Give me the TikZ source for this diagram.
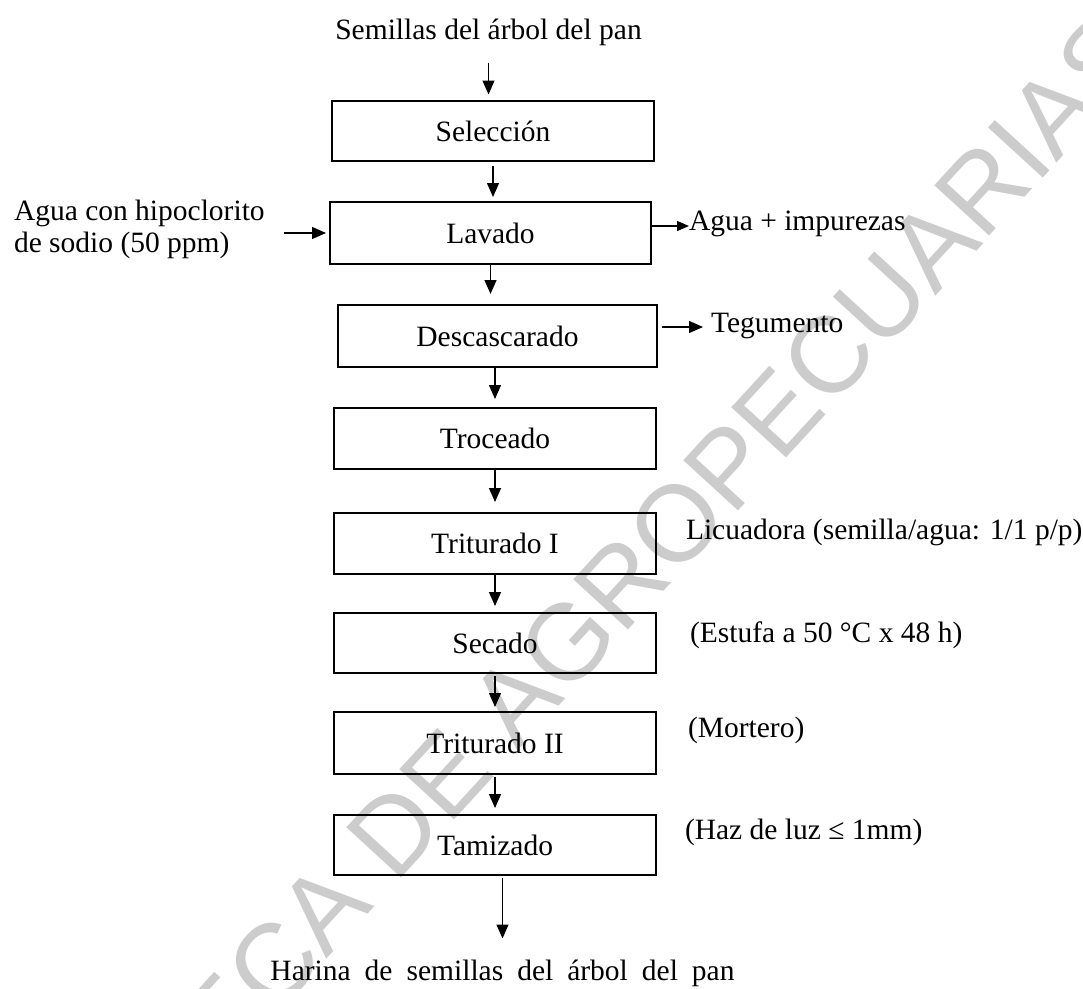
\documentclass[tikz,border=0pt]{standalone}
\usepackage{fontspec}
\setmainfont{Liberation Serif}
\newfontfamily\wmfont{Liberation Sans}
\usetikzlibrary{arrows.meta}
\begin{document}
\begin{tikzpicture}[x=1pt,y=-1pt,
  every node/.style={inner sep=0pt, outer sep=0pt, font=\fontsize{29.5}{32}\selectfont},
  procbox/.style={draw, line width=1.5pt, minimum width=322pt, minimum height=61pt},
  arr/.style={line width=1.3pt, -{Triangle[length=14pt,width=12pt]}},
  arrs/.style={line width=1.3pt, -{Triangle[length=12pt,width=10pt]}},
  note/.style={anchor=base west},
  wm/.style={anchor=base east, rotate=47.5, text=gray!40, font=\wmfont\fontsize{108}{108}\selectfont}]
\useasboundingbox (0,0) rectangle (1083,988);
% watermark
\begin{scope}
  \clip (0,0) rectangle (1083,988);
  \node[wm] (marca) at (1154,57) {BIBLIOTECA DE AGROPECUARIAS};
\end{scope}
% process boxes
\node[procbox, minimum height=60pt] (sel) at (493,131) {Selección};
\node[procbox, minimum width=321pt, minimum height=62pt] (lav) at (490.5,233) {Lavado};
\node[procbox, minimum width=319pt, minimum height=62pt] (desc) at (497.5,336) {Descascarado};
\node[procbox] (troc) at (495,438.5) {Troceado};
\node[procbox] (tri1) at (495,543.5) {Triturado I};
\node[procbox, minimum height=60pt] (sec) at (495,643) {Secado};
\node[procbox, minimum height=62pt] (tri2) at (495,743) {Triturado II};
\node[procbox, minimum height=60pt] (tam) at (495,845) {Tamizado};
% labels
\node[anchor=base] (sem) at (488.5,39) {Semillas del árbol del pan};
\node[anchor=west, align=left] (agua) at (14,229) {Agua con hipoclorito\\de sodio (50 ppm)};
\node[note] (imp) at (689,230) {Agua + impurezas};
\node[note] (teg) at (711,332) {Tegumento};
\node[note] (licu) at (686,539) {Licuadora (semilla/agua: 1/1 p/p)};
\node[note] (estu) at (690,642) {(Estufa a 50 °C x 48 h)};
\node[note] (mort) at (688,737) {(Mortero)};
\node[note] (haz) at (685,839) {(Haz de luz ≤ 1mm)};
\node[anchor=base] (har) at (502.5,980) {\spaceskip=14pt Harina de semillas del árbol del pan};
% connectors
\draw[arr, shorten <=17.5pt, shorten >=6.5pt] (sem.south) -- (sem.south |- sel.north);
\draw[arr, shorten <=5pt, shorten >=5pt] (sel.south) -- (sel.south |- lav.north);
\draw[arr, shorten >=11pt] (lav.south) -- (lav.south |- desc.north);
\draw[arr, shorten >=9pt] (troc.north |- desc.south) -- (troc.north);
\draw[arr, shorten >=11pt] (tri1.north |- troc.south) -- (tri1.north);
\draw[arr, shorten >=7pt] (sec.north |- tri1.south) -- (sec.north);
\draw[arr, shorten <=3pt, shorten >=5pt] (tri2.north |- sec.south) -- (tri2.north);
\draw[arr, shorten <=3pt, shorten >=7pt] (tam.north |- tri2.south) -- (tam.north);
\draw[arr, shorten <=3pt, shorten >=21pt] (har.north |- tam.south) -- (har.north);
\draw[arr, shorten <=19pt, shorten >=4pt] (agua.east |- lav.west) -- (lav.west);
\draw[arrs] ([yshift=7pt]lav.east) -- ([yshift=7pt]lav.east -| imp.west);
\draw[arr, shorten <=5pt, shorten >=8pt] ([yshift=9pt]desc.east) -- ([yshift=9pt]desc.east -| teg.west);
\end{tikzpicture}
\end{document}
